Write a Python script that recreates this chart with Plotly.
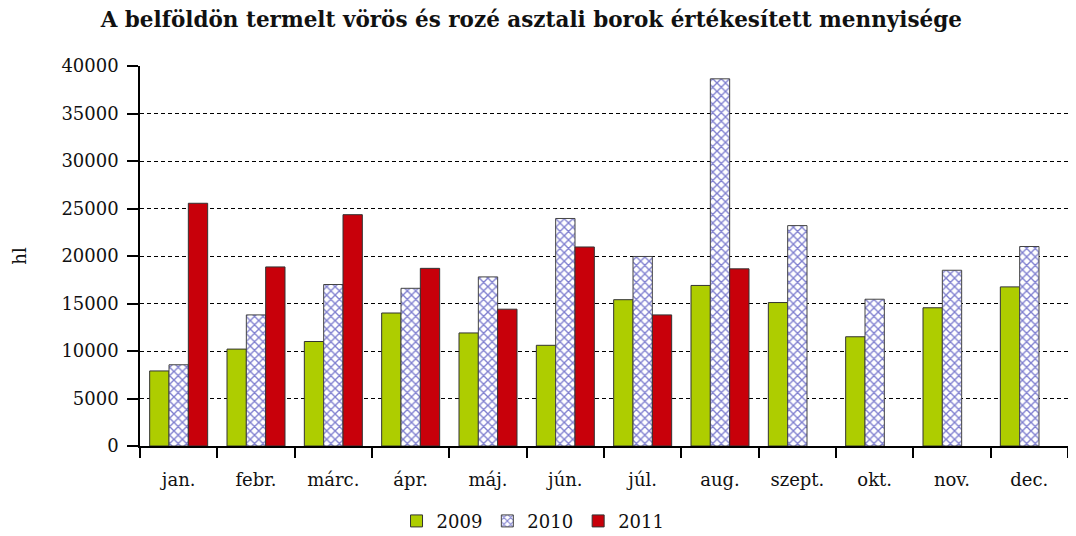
import plotly.graph_objects as go

months = ["jan.", "febr.", "márc.", "ápr.", "máj.", "jún.", "júl.", "aug.", "szept.", "okt.", "nov.", "dec."]
v2009 = [7900, 10200, 11000, 14000, 11900, 10600, 15400, 16900, 15100, 11500, 14550, 16750]
v2010 = [8550, 13800, 17000, 16600, 17800, 23950, 19950, 38650, 23200, 15450, 18500, 21000]
v2011 = [25550, 18850, 24350, 18700, 14400, 20950, 13800, 18650, None, None, None, None]
y_ticks = [0, 5000, 10000, 15000, 20000, 25000, 30000, 35000, 40000]

FONT = "DejaVu Serif"

fig = go.Figure()
fig.add_trace(go.Bar(
    name="2009", x=months, y=v2009,
    marker=dict(color="#aecd00", line=dict(color="#333333", width=1)),
))
fig.add_trace(go.Bar(
    name="2010", x=months, y=v2010,
    marker=dict(color="white", line=dict(color="#444444", width=1),
                pattern=dict(shape="x", fgcolor="#0000a0", bgcolor="white", size=6, solidity=0.4)),
))
fig.add_trace(go.Bar(
    name="2011", x=months, y=v2011,
    marker=dict(color="#c8000a", line=dict(color="#333333", width=1)),
))

fig.update_layout(
    width=1068, height=528,
    margin=dict(l=132, r=8, t=58, b=90),
    paper_bgcolor="white", plot_bgcolor="white",
    font=dict(family=FONT, size=18, color="#111111"),
    barmode="group", bargap=0.25, bargroupgap=0,
    title=dict(text="<b>A belföldön termelt vörös és rozé asztali borok értékesített mennyisége</b>",
               x=0.49, xref="container", y=0.978, yref="container", xanchor="center", yanchor="middle",
               font=dict(family=FONT, size=21.5, color="#111111")),
    legend=dict(orientation="h", x=0.4916, xref="container", xanchor="center", y=0.028, yref="container",
                yanchor="middle", font=dict(family=FONT, size=18), itemwidth=30, tracegroupgap=0),
    showlegend=True,
)
fig.update_xaxes(
    showline=True, linecolor="black", linewidth=1.5,
    ticks="outside", ticklen=10, tickwidth=1.5, tickcolor="black",
    tickson="boundaries", ticklabelstandoff=17,
    showgrid=False,
)
fig.update_yaxes(
    range=[0, 40000], tickvals=y_ticks, ticktext=[str(v) for v in y_ticks],
    showline=True, linecolor="black", linewidth=1.5,
    ticks="outside", ticklen=11, tickwidth=1.5, tickcolor="black",
    ticklabelstandoff=5,
    showgrid=True, gridcolor="black", gridwidth=1.2, griddash="4px,3px",
    zeroline=False,
    title=dict(text="hl", font=dict(family=FONT, size=18), standoff=30),
)

fig.write_html("out.html")
